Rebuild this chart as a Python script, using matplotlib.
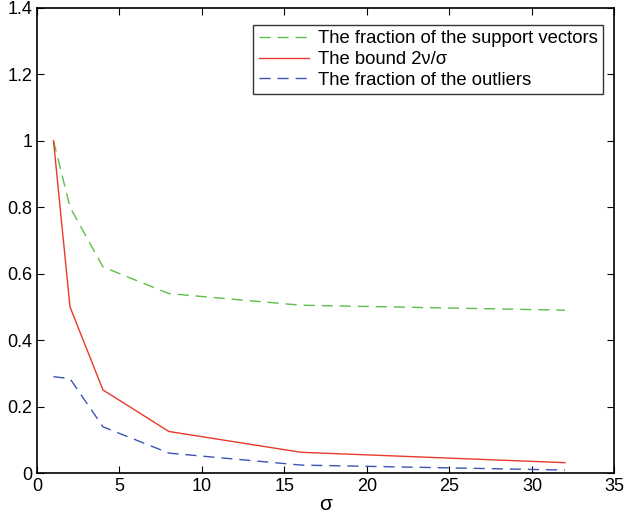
import numpy as np
import matplotlib
matplotlib.use("Agg")
import matplotlib.pyplot as plt

plt.rcParams['font.family'] = ['Liberation Sans', 'DejaVu Sans']

# data
sigma = [1, 2, 4, 8, 16, 32]
frac_sv = [1.0, 0.80, 0.62, 0.54, 0.505, 0.49]
bound = [1.0, 0.5, 0.25, 0.125, 0.0625, 0.03125]
frac_out = [0.29, 0.284, 0.139, 0.06, 0.024, 0.009]

fig = plt.figure(figsize=(6.27, 5.17), dpi=100)
ax = fig.add_axes([0.059, 0.085, 0.921, 0.9])

ax.plot(sigma, frac_sv, color='#5cc048', linestyle=(0, (8, 5)), linewidth=1,
        label='The fraction of the support vectors')
ax.plot(sigma, bound, color='#e8392a', linestyle='-', linewidth=1,
        label='The bound 2\u03bd/\u03c3')
ax.plot(sigma, frac_out, color='#3a55b4', linestyle=(0, (8, 5)), linewidth=1,
        label='The fraction of the outliers')

ax.set_xlim(0, 35)
ax.set_ylim(0, 1.4)
ax.set_xticks(np.arange(0, 36, 5))
ax.set_yticks([0, 0.2, 0.4, 0.6, 0.8, 1, 1.2, 1.4])
ax.set_yticklabels(['0', '0.2', '0.4', '0.6', '0.8', '1', '1.2', '1.4'])
ax.tick_params(direction='in', top=True, right=True, labelsize=13, length=5)
for s in ax.spines.values():
    s.set_linewidth(1.2)
ax.set_xlabel('\u03c3', fontsize=15, labelpad=0)

leg = ax.legend(loc='upper right', fontsize=13.3, frameon=True, fancybox=False,
                edgecolor='black', borderpad=0.3, labelspacing=0.2,
                handlelength=2.7, handletextpad=0.5,
                bbox_to_anchor=(0.997, 0.983))
leg.get_frame().set_linewidth(1.0)

fig.savefig('out.png', dpi=100)
